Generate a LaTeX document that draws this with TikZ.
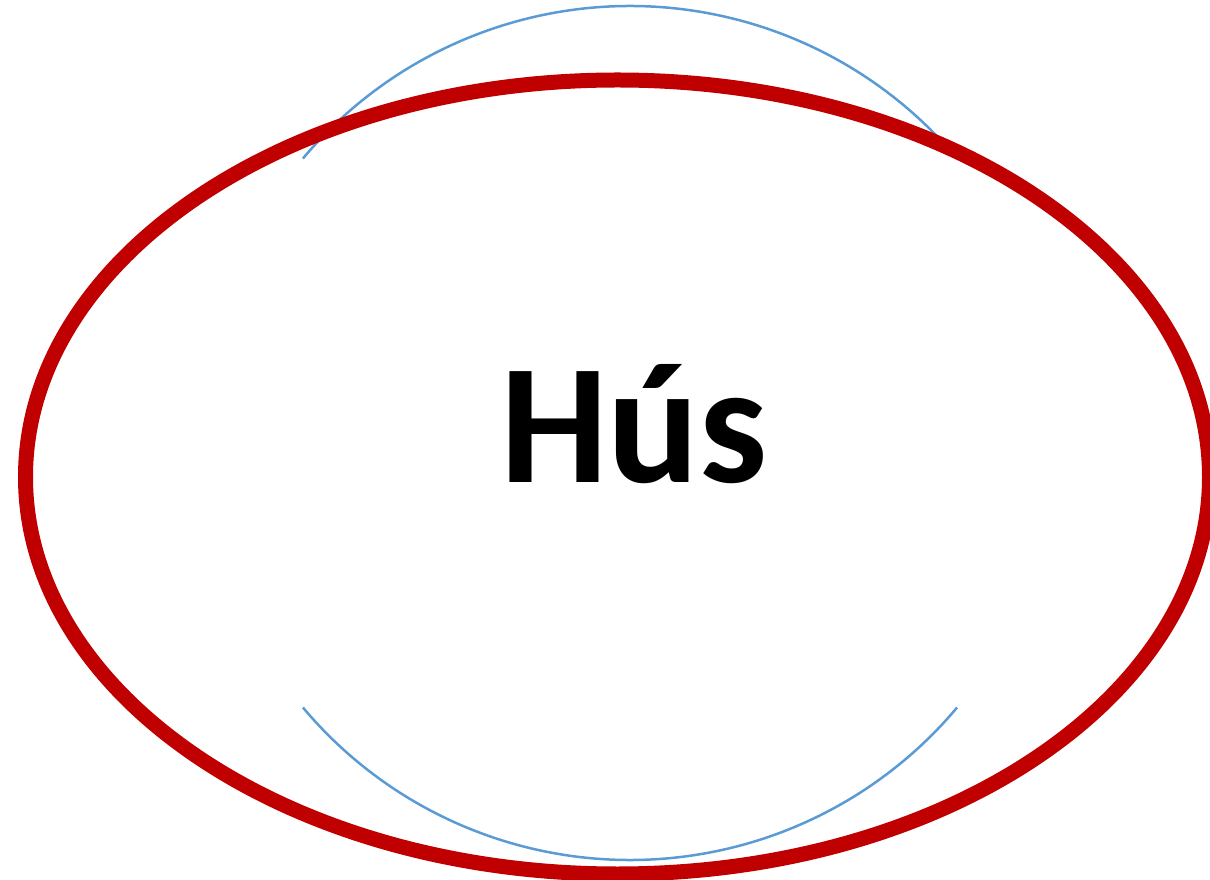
\documentclass[tikz,border=0pt]{standalone}
\usepackage{fontspec}
\newfontfamily\carlito{Carlito}
\definecolor{redring}{HTML}{C00000}
\definecolor{bluearc}{HTML}{5B9BD5}
\tikzset{
  ring/.style={draw=redring, line width=15pt},
  arcline/.style={draw=bluearc, line width=2.5pt},
  label/.style={inner sep=0pt, anchor=base, font=\carlito\bfseries\fontsize{171}{171}\selectfont}
}
\begin{document}
\begin{tikzpicture}[x=1pt,y=1pt]
\useasboundingbox (0,0) rectangle (1210,879);
\coordinate (c) at (630,446);
\draw[arcline] (c) ++(140:427) arc (140:40:427);
\draw[arcline] (c) ++(220:427) arc (220:320:427);
\draw[ring] (617.5,402) ellipse [x radius=592, y radius=397];
\node[label] (t) at (634,396) {Hús};
\end{tikzpicture}
\end{document}
